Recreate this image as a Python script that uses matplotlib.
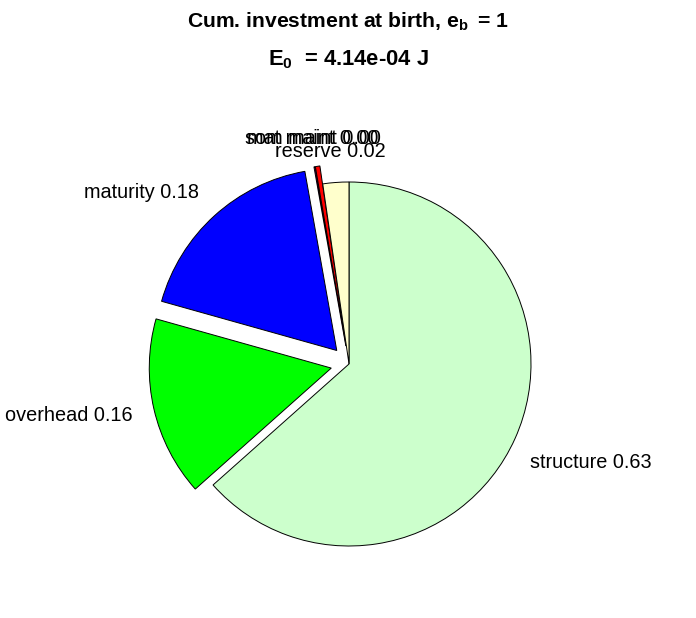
import numpy as np
import matplotlib
matplotlib.use("Agg")
import matplotlib.pyplot as plt

plt.rcParams['font.family'] = ['Liberation Sans', 'DejaVu Sans']
plt.rcParams['mathtext.fontset'] = 'custom'
plt.rcParams['mathtext.rm'] = 'Liberation Sans'
plt.rcParams['mathtext.bf'] = 'Liberation Sans:bold'

# data (clockwise from top)
names = ["structure", "overhead", "maturity", "mat maint", "som maint", "reserve"]
fracs = [0.633, 0.159, 0.178, 0.001, 0.004, 0.023]
explode = [0, 0.1, 0.1, 0.1, 0.1, 0]
colors = [(0.8, 1, 0.8), (0, 1, 0), (0, 0, 1), (1, 0, 1), (1, 0, 0), (1, 1, 0.8)]
E0 = 4.14e-04

# label positions, in units of the pie radius
label_xy = [(1.33, -0.54), (-1.54, -0.285), (-1.14, 0.945),
            (-0.20, 1.24), (-0.20, 1.24), (-0.10, 1.165)]

fig = plt.figure(figsize=(6.96, 6.18), dpi=100)
ax = fig.add_axes([0, 0, 1, 1])

wedges, _ = ax.pie(fracs, explode=explode, colors=colors, startangle=90,
                   counterclock=False, normalize=True,
                   wedgeprops=dict(edgecolor='black', linewidth=0.7))

for n, f, (x, y) in zip(names, fracs, label_xy):
    ax.text(x, y, f"{n} {f:.2f}", ha='center', va='center', fontsize=14.3)

# center at (349, 364) px, radius 182 px
ax.set_xlim(-349 / 182, (696 - 349) / 182)
ax.set_ylim(-254 / 182, (618 - 254) / 182)
ax.set_aspect('auto')
ax.axis('off')

fig.text(0.5, 1 - 22 / 618, r"Cum. investment at birth, $\mathbf{e_{b}}\,$ = 1",
         ha='center', va='center', fontsize=15.2, fontweight='bold')
fig.text(0.5, 1 - 60 / 618, r"$\mathbf{E_{0}}\;$ = %.2e J" % E0,
         ha='center', va='center', fontsize=15.8, fontweight='bold')

fig.savefig("out.png", dpi=100)
